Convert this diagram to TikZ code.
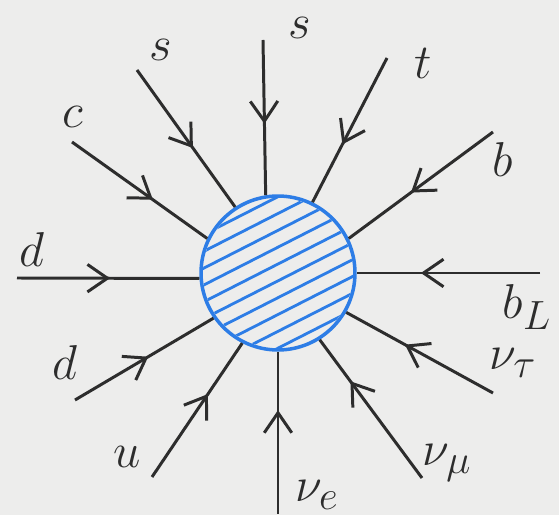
\documentclass[tikz,border=0pt]{standalone}
\usepackage{tikz}
\usetikzlibrary{arrows.meta, decorations.markings}
\definecolor{inkblue}{RGB}{45,125,230}
\definecolor{ink}{RGB}{45,45,45}
\definecolor{paper}{RGB}{237,237,236}

\begin{document}
\begin{tikzpicture}[x=0.02cm, y=-0.02cm,
  blob/.style={circle, draw=inkblue, line width=2pt, minimum size=3.08cm, inner sep=0pt},
  hatch/.style={draw=inkblue, line width=1.6pt},
  leg/.style={draw=ink, line width=1.7pt, postaction={decorate},
    decoration={markings, mark=at position #1 with {\arrow[ink, line width=1.7pt]{Straight Barb[length=4mm, width=5.5mm]}}}},
  leg/.default=0.6,
  lbl/.style={font=\Huge, text=ink, scale=1.12, transform shape}
]
  \fill[paper] (0,0) rectangle (559,515);

  % central blob
  \node[blob] (blob) at (278,273) {};
  \begin{scope}
    \clip (blob.center) circle (1.5cm);
    \begin{scope}[shift={(blob.center)}, rotate=27]
      \foreach \k in {-5,...,4}
        \draw[hatch] (-90,\k*15+7) -- (90,\k*15+7);
    \end{scope}
  \end{scope}

  % outer ends of the legs
  \coordinate (c) at (72,142);
  \coordinate (s1) at (137,70);
  \coordinate (s2) at (263,40);
  \coordinate (t) at (387,58);
  \coordinate (b) at (493,132);
  \coordinate (bL) at (540,273);
  \coordinate (nutau) at (493,393);
  \coordinate (numu) at (422,478);
  \coordinate (nue) at (278,514);
  \coordinate (u) at (152,477);
  \coordinate (d1) at (75,400);
  \coordinate (d2) at (17,278);

  \draw[leg] (c) -- (blob.154);
  \draw[leg=0.57] (s1) -- (blob.123);
  \draw[leg=0.54] (s2) -- (blob.99);
  \draw[leg] (t) -- (blob.64);
  \draw[leg=0.57] (b) -- (blob.26);
  \draw[leg=0.65] (bL) -- (blob.0);
  \draw[leg] (nutau) -- (blob.-30);
  \draw[leg=0.7] (numu) -- (blob.-58);
  \draw[leg=0.64] (nue) -- (blob.-90);
  \draw[leg=0.62] (u) -- (blob.-117);
  \draw[leg=0.53] (d1) -- (blob.-145);
  \draw[leg=0.51] (d2) -- (blob.-176);

  % labels
  \node[lbl] (c-lab) at (73,117) {$c$};
  \node[lbl] (s1-lab) at (161,50) {$s$};
  \node[lbl] (s2-lab) at (300,28) {$s$};
  \node[lbl] (t-lab) at (423,63) {$t$};
  \node[lbl] (b-lab) at (503,160) {$b$};
  \node[lbl] (bL-lab) at (527,307) {$b_L$};
  \node[lbl] (nutau-lab) at (513,363) {$\nu_\tau$};
  \node[lbl] (numu-lab) at (447,463) {$\nu_\mu$};
  \node[lbl] (nue-lab) at (317,495) {$\nu_e$};
  \node[lbl] (u-lab) at (127,457) {$u$};
  \node[lbl] (d1-lab) at (65,363) {$d$};
  \node[lbl] (d2-lab) at (32,250) {$d$};
\end{tikzpicture}
\end{document}
